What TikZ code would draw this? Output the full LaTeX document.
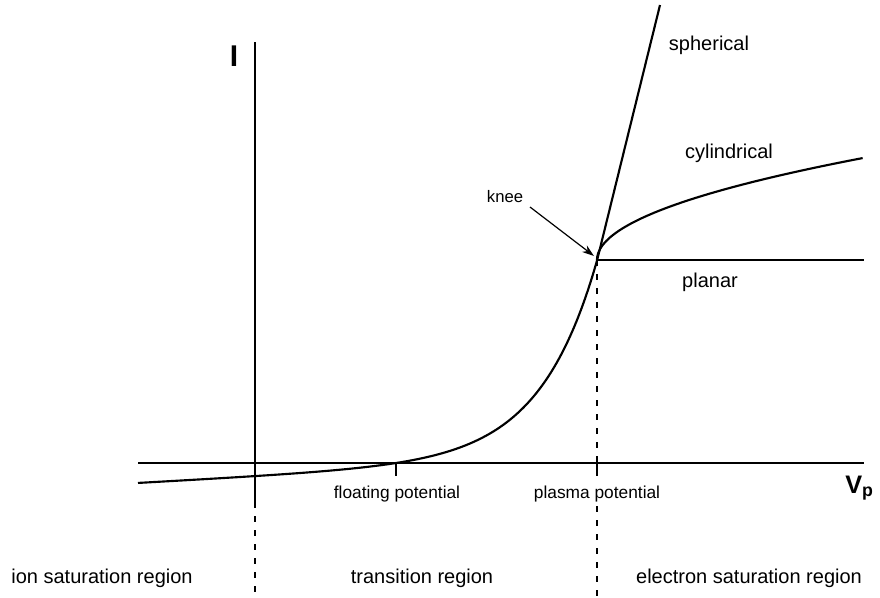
\documentclass[tikz,border=0pt]{standalone}
\usepackage{fontspec}
\setmainfont{Liberation Sans}
\usetikzlibrary{arrows.meta}
\begin{document}
\begin{tikzpicture}[x=0.75pt,y=-0.75pt,
  axis/.style={line width=1.4pt},
  curve/.style={line width=1.6pt, line join=round},
  guide/.style={line width=0.8pt, dash pattern=on 4.5pt off 6pt},
  lbl/.style={inner sep=0pt, anchor=base, font=\fontsize{15}{18}\selectfont},
  smalllbl/.style={inner sep=0pt, anchor=base, font=\fontsize{13}{15}\selectfont},
  kneelblstyle/.style={inner sep=0pt, anchor=base, font=\fontsize{12.5}{15}\selectfont},
]
\useasboundingbox (0,0) rectangle (880,597);
% named points
\coordinate (ytop) at (255,42);
\coordinate (ybot) at (255,502);
\coordinate (yend) at (255,597);
\coordinate (xl) at (138,463);
\coordinate (xr) at (864,463);
\coordinate (fp) at (396,463);
\coordinate (fpt) at (396,476);
\coordinate (pp) at (597,463);
\coordinate (ppt) at (597,476);
\coordinate (ppdash) at (597,506);
\coordinate (ppend) at (597,597);
\coordinate (knee) at (597,260);
\coordinate (sphtop) at (660,5);
\coordinate (planarend) at (864,260);
\coordinate (kneetail) at (530,207);
\coordinate (kneetip) at (594,256);
% axes
\draw[axis] (ytop) -- (ybot);
\draw[guide] (ybot) -- (yend);
\draw[axis] (xl) -- (xr);
\draw[axis] (fp) -- (fpt);
\draw[axis] (pp) -- (ppt);
\draw[guide] (knee) -- (pp);
\draw[guide] (ppdash) -- (ppend);
% I-V curve with spherical branch
\draw[curve] plot[domain=138:597, samples=120, smooth]
  (\x, {463 - (5.8*(exp((\x-396)/57)-1) + 0.055*(\x-396))}) -- (sphtop);
% cylindrical branch
\draw[curve] plot[domain=0:1, samples=60, smooth, variable=\t]
  ({597+266*\t*\t}, {260-102*\t});
% planar branch
\draw[curve] (knee) -- (planarend);
% knee arrow
\draw[line width=0.9pt, -{Stealth[length=9pt,width=6pt]}] (kneetail) -- (kneetip);
% labels
\node[inner sep=0pt, anchor=base, font=\bfseries\fontsize{22.5}{24}\selectfont] (ilbl) at (234,66) {I};
\node[inner sep=0pt, anchor=base west, font=\bfseries\fontsize{19}{20}\selectfont] (vplbl) at (845,493) {V\textsubscript{p}};
\node[kneelblstyle] (kneelbl) at (505,202) {knee};
\node[lbl] (sph) at (709,50) {spherical};
\node[lbl] (cyl) at (729,158) {cylindrical};
\node[lbl] (pla) at (710,287) {planar};
\node[smalllbl] (fplbl) at (397,498) {floating potential};
\node[smalllbl] (pplbl) at (597,498) {plasma potential};
\node[lbl] (ionreg) at (102,583) {ion saturation region};
\node[lbl] (trreg) at (422,583) {transition region};
\node[lbl] (elreg) at (749,583) {electron saturation region};
\end{tikzpicture}
\end{document}
